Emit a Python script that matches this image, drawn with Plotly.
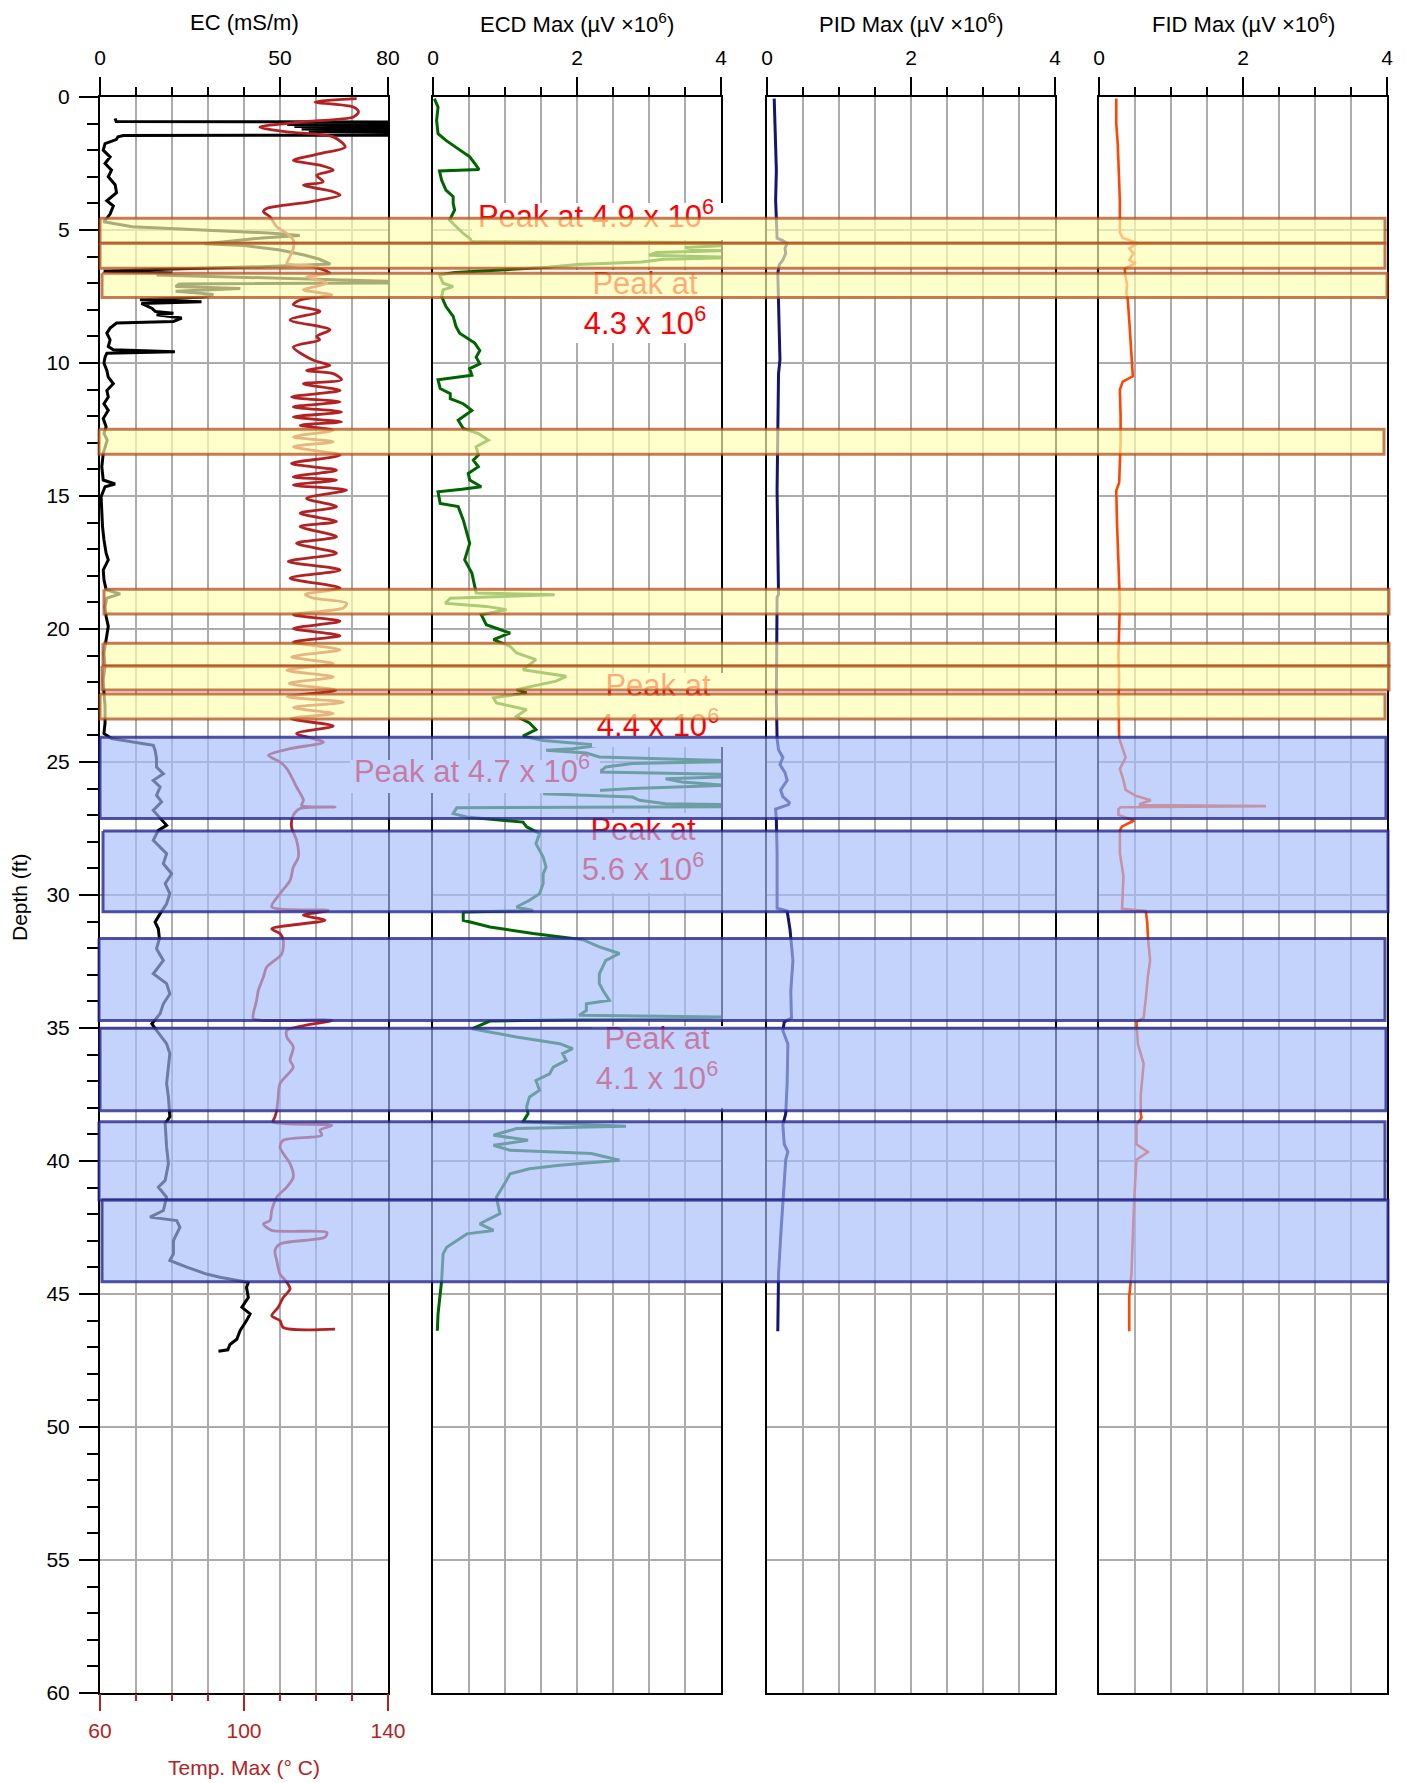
import plotly.graph_objects as go

FONT = "Liberation Sans, Arial, Helvetica, sans-serif"

# ---------------------------------------------------------------
# Log data (depth in ft)
# ---------------------------------------------------------------
EC_DEPTH = [0.81, 0.92, 0.94, 0.99, 1.03, 1.07, 1.11, 1.16, 1.20, 1.25, 1.30, 1.35, 1.40, 1.43,
            1.45, 1.50, 1.60, 1.75, 2.00, 2.25, 2.50, 2.75, 3.00, 3.30, 3.60, 3.90, 4.10, 4.40,
            4.56, 4.69, 4.88, 5.00, 5.12, 5.21, 5.30, 5.42, 5.52, 5.58, 5.75, 5.95, 6.10, 6.28,
            6.38, 6.47, 6.55, 6.62, 6.69, 6.98, 7.03, 7.12, 7.20, 7.30, 7.42, 7.52, 7.62, 7.70,
            7.76, 7.95, 8.06, 8.13, 8.19, 8.31, 8.44, 8.50, 8.69, 8.88, 9.13, 9.38, 9.50, 9.58,
            9.63, 9.78, 10.00, 10.28, 10.53, 10.78, 11.03, 11.28, 11.53, 11.78, 12.09, 12.40,
            12.65, 12.90, 13.15, 13.40, 13.90, 14.40, 14.55, 14.65, 15.03, 15.65, 16.15, 16.65,
            17.15, 17.40, 17.78, 18.15, 18.53, 18.68, 18.84, 19.15, 19.53, 19.90, 20.40, 20.90,
            21.40, 21.90, 22.40, 22.90, 23.53, 23.93, 24.12, 24.25, 24.37, 24.56, 24.87, 25.19,
            25.44, 25.69, 25.94, 26.25, 26.50, 26.82, 27.13, 27.38, 27.57, 27.94, 28.45, 28.82,
            29.20, 29.57, 29.95, 30.33, 30.70, 31.02, 31.27, 31.64, 32.02, 32.46, 32.96, 33.33,
            33.71, 34.09, 34.46, 34.84, 35.09, 35.59, 35.96, 36.47, 37.09, 37.59, 38.34, 38.59,
            39.47, 40.10, 40.73, 40.98, 41.36, 41.86, 42.11, 42.24, 42.49, 42.99, 43.49, 43.74,
            43.99, 44.25, 44.37, 44.56, 44.75, 45.13, 45.50, 45.75, 46.00, 46.38, 46.70, 46.90,
            47.10, 47.15]
EC_MS_M = [4.2, 4.5, 95, 82, 52, 95, 54, 95, 56, 95, 58, 95, 80, 95,
           6.5, 5.0, 4.5, 1.4, 0.9, 2.8, 1.4, 3.2, 2.3, 4.2, 4.6, 1.9, 3.7, 2.8,
           1.9, 1.0, 9.0, 28, 48, 55.5, 45, 36, 29, 40, 50, 57, 61, 64,
           45, 20, 1.0, 20, 15.7, 95, 22, 21, 39, 21, 31.5, 28.7, 11.1, 28.2,
           11.5, 14.5, 15.3, 20.4, 15.7, 22.7, 20.4, 4.6, 2.8, 1.9, 2.8, 2.3, 3.7, 20.8,
           1.9, 1.4, 1.1, 1.9, 2.3, 3.7, 1.9, 2.3, 1.1, 2.3, 0.9, 1.7,
           1.1, 2.0, 1.4, 0.9, 0.5, 0.9, 4.2, 1.4, 0.3, 0.5, 0.7, 1.1,
           1.7, 2.3, 0.9, 1.1, 1.7, 5.6, 1.9, 1.4, 1.7, 2.3, 1.7, 1.1,
           1.4, 0.9, 1.1, 1.4, 1.4, 1.1, 3.2, 9.3, 14.8, 15.3, 15.7, 15.7,
           17.6, 14.8, 16.7, 15.7, 17.1, 14.8, 16.7, 18.5, 16.2, 14.8, 18.5, 17.6,
           19.9, 18.1, 19.4, 18.5, 16.7, 15.3, 16.2, 16.5, 15.7, 17.6, 14.8, 18.5,
           19.4, 17.6, 16.7, 14.4, 15.7, 18.5, 19.4, 19.0, 18.5, 19.0, 19.4, 18.1,
           18.5, 19.0, 18.1, 16.2, 18.5, 17.6, 13.9, 21.3, 22.2, 20.4, 20.4, 19.4,
           24.1, 29.6, 33.3, 41.2, 40.7, 41.2, 39.4, 41.7, 40.7, 38.9, 38.0, 36.1,
           35.5, 32.9]

TEMP_DEPTH = [0.06, 0.19, 0.38, 0.56, 0.75, 0.94, 1.13, 1.31, 1.50, 1.88, 2.13, 2.38, 2.56, 2.75,
              2.94, 3.19, 3.31, 3.56, 3.69, 3.94, 4.19, 4.31, 4.50, 4.88, 5.13, 5.38, 5.69, 6.13,
              6.25, 6.38, 6.63, 6.75, 7.00, 7.25, 7.44, 7.63, 7.81, 8.06, 8.38, 8.75, 9.00, 9.13,
              9.40, 9.90, 10.09, 10.28, 10.40, 10.63, 10.78, 11.03, 11.28, 11.46, 11.65, 11.84,
              12.03, 12.21, 12.34, 12.53, 12.78, 12.96, 13.15, 13.46, 13.78, 14.03, 14.28, 14.40,
              14.59, 14.78, 15.09, 15.40, 15.65, 15.96, 16.15, 16.53, 16.78, 17.15, 17.46, 17.78,
              18.09, 18.46, 18.70, 18.84, 19.03, 19.21, 19.46, 19.71, 19.98, 20.25, 20.50, 20.78,
              21.05, 21.30, 21.55, 21.80, 22.05, 22.30, 22.55, 22.75, 22.95, 23.18, 23.37, 23.65,
              23.93, 24.25, 24.50, 24.75, 25.00, 25.25, 25.69, 25.94, 26.44, 26.63, 26.69, 26.75,
              27.00, 27.44, 27.94, 28.57, 28.95, 29.45, 29.95, 30.45, 30.58, 30.76, 30.95, 31.27,
              31.45, 31.70, 32.21, 32.71, 33.08, 33.58, 33.96, 34.46, 34.65, 34.71, 35.09, 35.34,
              35.71, 36.22, 36.47, 37.09, 37.59, 38.09, 38.34, 38.53, 38.66, 38.84, 39.03, 39.22,
              39.47, 39.72, 40.10, 40.60, 40.98, 41.36, 41.86, 42.24, 42.36, 42.61, 42.68, 42.86,
              43.12, 43.37, 43.74, 44.25, 44.56, 44.81, 45.13, 45.50, 45.82, 46.00, 46.26, 46.32]
TEMP_C = [131.3, 119.7, 130.4, 131.8, 130.4, 115.6, 104.4, 111.9, 124.8, 128.1, 121.1, 113.7, 121.1, 124.8,
          120.2, 122.0, 116.5, 124.8, 126.7, 118.3, 106.3, 105.4, 107.2, 109.1, 111.9, 113.7, 113.7, 112.3,
          111.9, 119.3, 123.9, 117.4, 123.0, 116.5, 124.4, 115.6, 113.7, 121.1, 112.8, 123.9, 120.2, 121.0,
          113.7, 119.3, 123.9, 117.4, 124.8, 127.1, 116.5, 126.7, 113.2, 126.7, 113.7, 127.1,
          113.7, 127.1, 115.6, 124.8, 113.7, 124.8, 113.7, 126.7, 113.2, 125.7, 113.7, 125.7,
          113.7, 128.5, 117.4, 125.7, 115.6, 125.7, 115.6, 125.7, 114.6, 125.7, 112.3, 126.7,
          112.8, 126.7, 117.0, 119.3, 128.5, 127.6, 113.7, 126.7, 113.7, 126.7, 113.7, 126.7,
          113.2, 124.8, 111.9, 124.8, 112.5, 125.5, 112.0, 127.6, 113.7, 124.8, 113.0, 124.8,
          114.6, 122.0, 112.8, 106.8, 110.0, 111.9, 113.7, 114.6, 116.5, 116.0, 125.3, 115.6,
          113.7, 113.2, 114.6, 115.1, 113.7, 112.8, 110.0, 107.7, 123.4, 116.5, 122.5, 107.7,
          110.0, 110.9, 110.5, 106.3, 105.4, 104.0, 103.5, 102.6, 102.6, 124.4, 111.9, 111.9,
          113.7, 112.8, 113.7, 110.0, 109.5, 109.1, 108.6, 108.1, 124.4, 121.1, 121.6, 110.9,
          110.0, 110.9, 112.8, 113.7, 111.9, 109.1, 107.7, 107.2, 105.4, 107.7, 123.0, 122.5,
          110.0, 108.6, 109.1, 110.0, 111.9, 112.8, 110.9, 109.5, 107.7, 110.0, 110.9, 125.3]

ECD_DEPTH = [0.06, 0.38, 0.88, 1.38, 1.63, 2.00, 2.25, 2.50, 2.73, 2.78, 3.13, 3.50, 3.75, 4.00,
             4.25, 4.63, 4.88, 5.13, 5.31, 5.44, 5.48, 5.56, 5.66, 5.72, 5.78, 5.85, 5.95, 6.03,
             6.10, 6.20, 6.30, 6.40, 6.50, 6.60, 6.69, 7.00, 7.13, 7.25, 7.50, 7.88, 8.25, 8.63,
             8.88, 9.13, 9.25, 9.53, 9.78, 10.03, 10.21, 10.46, 10.63, 10.96, 11.15, 11.34, 11.53,
             11.78, 12.15, 12.46, 12.65, 12.90, 13.15, 13.46, 13.65, 13.90, 14.15, 14.40, 14.65,
             14.75, 14.84, 15.28, 15.40, 15.90, 16.40, 16.78, 17.40, 17.90, 18.40, 18.65, 18.71,
             18.84, 19.03, 19.15, 19.28, 19.46, 19.84, 20.15, 20.40, 20.65, 20.90, 21.15, 21.53,
             21.78, 21.96, 22.28, 22.40, 22.59, 22.78, 23.03, 23.28, 23.53, 23.78, 24.03, 24.19,
             24.37, 24.50, 24.56, 24.66, 24.81, 24.97, 25.06, 25.19, 25.38, 25.50, 25.63, 25.75,
             25.88, 26.00, 26.19, 26.32, 26.44, 26.57, 26.67, 26.72, 26.94, 27.07, 27.26, 27.44,
             27.69, 28.07, 28.57, 28.95, 29.20, 29.57, 29.95, 30.20, 30.45, 30.58, 30.64, 30.95,
             31.20, 31.45, 31.68, 31.95, 32.20, 32.46, 32.71, 32.96, 33.33, 33.58, 33.96, 34.09,
             34.34, 34.52, 34.59, 34.74, 35.03, 35.34, 35.59, 35.78, 35.96, 36.22, 36.47, 36.72,
             36.97, 37.34, 37.59, 37.96, 38.22, 38.53, 38.69, 38.78, 39.03, 39.22, 39.41, 39.60,
             39.72, 39.97, 40.16, 40.29, 40.48, 40.73, 41.36, 41.98, 42.36, 42.61, 42.74, 42.99,
             43.24, 43.49, 44.50, 45.75, 46.38]
ECD_UV = [0.02, 0.07, 0.05, 0.07, 0.18, 0.37, 0.51, 0.58, 0.64, 0.09, 0.12, 0.18, 0.28, 0.28,
          0.30, 0.23, 0.32, 0.42, 0.51, 0.55, 4.9, 4.2, 3.5, 3.6, 4.05, 3.1, 3.0, 4.3,
          3.2, 2.9, 2.0, 1.6, 0.9, 0.3, 0.09, 0.14, 0.28, 0.14, 0.12, 0.18, 0.28, 0.32,
          0.37, 0.51, 0.58, 0.65, 0.60, 0.65, 0.51, 0.54, 0.07, 0.10, 0.24, 0.24, 0.42,
          0.54, 0.35, 0.42, 0.63, 0.77, 0.60, 0.63, 0.56, 0.63, 0.49, 0.51, 0.67,
          0.40, 0.07, 0.10, 0.35, 0.42, 0.47, 0.51, 0.44, 0.54, 0.58, 0.60, 1.69,
          0.24, 0.17, 0.74, 1.02, 0.67, 0.74, 1.07, 0.84, 1.07, 1.16, 1.43, 1.25,
          1.85, 1.71, 1.16, 1.30, 0.84, 0.88, 1.30, 1.16, 1.34, 1.43, 1.25, 1.53,
          2.31, 1.94, 1.57, 2.13, 2.31, 4.4, 2.77, 2.40, 2.31, 4.7, 3.23, 3.46,
          4.05, 2.77, 1.53, 2.77, 2.87, 3.23, 5.6, 0.33, 0.28, 0.47, 1.25, 1.30,
          1.48, 1.43, 1.53, 1.57, 1.53, 1.53, 1.48, 1.34, 1.16, 1.39, 0.42, 0.42,
          0.79, 1.39, 2.08, 2.31, 2.59, 2.40, 2.36, 2.31, 2.31, 2.36, 2.45, 2.13,
          2.13, 2.03, 4.1, 0.79, 0.54, 1.16, 1.76, 1.94, 1.80, 1.85, 1.67, 1.62,
          1.43, 1.48, 1.34, 1.30, 1.32, 1.25, 2.68, 1.16, 0.84, 1.32, 0.84, 1.07,
          2.20, 2.59, 1.76, 1.34, 1.07, 1.02, 0.88, 0.93, 0.65, 0.84, 0.47, 0.33,
          0.19, 0.14, 0.12, 0.07, 0.06]

PID_DEPTH = [0.06, 1.38, 2.75, 3.88, 5.13, 5.31, 5.40, 5.50, 5.69, 5.88, 6.13, 6.31, 6.63, 7.63,
             8.88, 9.88, 10.40, 14.15, 14.78, 18.71, 18.80, 22.67, 24.11, 24.54, 24.83, 25.10,
             25.40, 25.69, 26.05, 26.30, 26.52, 26.60, 26.77, 27.20, 28.40, 30.50, 30.60, 31.30,
             32.47, 33.62, 34.62, 34.77, 35.10, 35.60, 37.07, 38.22, 38.65, 39.37, 39.66, 39.95,
             41.39, 42.83, 44.27, 45.10, 46.40]
PID_UV = [0.10, 0.11, 0.13, 0.12, 0.13, 0.14, 0.22, 0.28, 0.25, 0.26, 0.22, 0.17, 0.15, 0.16,
          0.17, 0.18, 0.16, 0.15, 0.14, 0.16, 0.14, 0.13, 0.14, 0.16, 0.22, 0.18,
          0.25, 0.28, 0.19, 0.22, 0.31, 0.30, 0.12, 0.13, 0.14, 0.14, 0.28, 0.32,
          0.36, 0.33, 0.34, 0.24, 0.22, 0.29, 0.28, 0.26, 0.22, 0.24, 0.29, 0.26,
          0.22, 0.19, 0.16, 0.16, 0.15]

FID_DEPTH = [0.06, 1.00, 1.75, 2.50, 3.00, 3.90, 5.10, 5.30, 5.50, 5.69, 5.88, 6.13, 6.25, 6.44,
             6.63, 7.06, 7.38, 7.63, 8.40, 9.60, 10.00, 10.50, 10.70, 11.00, 12.00, 13.00, 14.50,
             14.80, 16.00, 17.00, 18.00, 19.00, 20.00, 21.00, 22.00, 22.67, 24.11, 24.54, 24.83,
             25.26, 25.69, 26.05, 26.27, 26.44, 26.58, 26.62, 26.66, 26.70, 26.77, 26.99, 27.20,
             27.42, 27.57, 28.43, 29.30, 30.52, 30.60, 31.03, 31.60, 32.47, 33.04, 33.90, 34.62,
             34.77, 35.60, 36.35, 37.07, 37.50, 38.22, 38.37, 38.65, 39.37, 39.66, 39.95, 41.39,
             42.83, 44.27, 45.10, 46.40]
FID_UV = [0.24, 0.24, 0.26, 0.27, 0.27, 0.29, 0.29, 0.33, 0.54, 0.42, 0.48, 0.42, 0.51, 0.36,
          0.36, 0.39, 0.38, 0.40, 0.42, 0.45, 0.46, 0.47, 0.33, 0.29, 0.30, 0.30, 0.28,
          0.24, 0.25, 0.26, 0.27, 0.29, 0.28, 0.27, 0.28, 0.27, 0.28, 0.34, 0.37,
          0.29, 0.34, 0.37, 0.51, 0.72, 0.57, 0.57, 2.32, 0.30, 0.27, 0.27, 0.49,
          0.32, 0.29, 0.29, 0.34, 0.32, 0.65, 0.67, 0.68, 0.71, 0.68, 0.65, 0.62,
          0.52, 0.54, 0.62, 0.59, 0.58, 0.58, 0.59, 0.52, 0.52, 0.68, 0.52, 0.49,
          0.47, 0.45, 0.42, 0.42]

# Interpreted depth intervals (ft)
YELLOW_TOP = [4.56, 5.50, 6.63, 12.49, 18.51, 20.54, 21.39, 22.44]
YELLOW_BOTTOM = [5.50, 6.44, 7.54, 13.43, 19.44, 21.39, 22.29, 23.38]
BLUE_TOP = [24.07, 27.59, 31.64, 35.01, 38.52, 41.47]
BLUE_BOTTOM = [27.12, 30.63, 34.72, 38.11, 41.47, 44.54]

# Off-scale ECD peak values (x 10^6 uV)
PEAK_VALUES = [4.9, 4.3, 4.4, 4.7, 5.6, 4.1]
PEAK_TWO_LINES = [False, True, True, False, True, True]

PANEL_TITLES = ["EC (mS/m)", "ECD Max (\u00b5V \u00d710<sup>6</sup>)",
                "PID Max (\u00b5V \u00d710<sup>6</sup>)", "FID Max (\u00b5V \u00d710<sup>6</sup>)"]

# ---------------------------------------------------------------
# Page geometry (pixels)
# ---------------------------------------------------------------
W, H = 1407, 1783
ML, MR, MT, MB = 96, 14, 97, 90
PW = W - ML - MR
PH = H - MT - MB
DEPTH_MAX = 60
PANELS_PX = [(100, 388), (433, 721), (767, 1055), (1099, 1387)]

YELLOW_X = [(100, 1385), (100, 1385), (102, 1387), (99, 1384), (104, 1389), (103, 1389),
            (102, 1389), (100, 1385)]
BLUE_X = [(100, 1386), (103, 1388), (99, 1385), (100, 1386), (99, 1385), (102, 1388)]

# label placement: centre (x px, y px) and white backing box (x0, x1, y0, y1 px)
LABEL_AT = [(596, 219), (645, 306), (658, 708), (472, 774), (643, 852), (657, 1061)]
LABEL_BOX = [(472, 730, 203, 240), (574, 718, 270, 343), (592, 732, 673, 747),
             (350, 600, 760, 793), (580, 716, 813, 893), (592, 732, 1026, 1108)]


def dom(a, b):
    return [(a - ML) / PW, (b - ML) / PW]


def depth_of(ypx):
    return (ypx - MT) / PH * DEPTH_MAX


def paper_y(ypx):
    return (H - MB - ypx) / PH


def paper_x(xpx):
    return (xpx - ML) / PW


GRID = "rgb(172,172,172)"
TEMP_RED = "#B22222"
TICKFONT = dict(family=FONT, size=21, color="black")

fig = go.Figure()

# ---- log curves ----
fig.add_trace(go.Scatter(x=EC_MS_M, y=EC_DEPTH, mode="lines", xaxis="x", yaxis="y",
                         line=dict(color="black", width=3)))
fig.add_trace(go.Scatter(x=TEMP_C, y=TEMP_DEPTH, mode="lines", xaxis="x5", yaxis="y",
                         line=dict(color=TEMP_RED, width=2.8, shape="spline", smoothing=0.8)))
fig.add_trace(go.Scatter(x=ECD_UV, y=ECD_DEPTH, mode="lines", xaxis="x2", yaxis="y2",
                         line=dict(color="#006400", width=3)))
fig.add_trace(go.Scatter(x=PID_UV, y=PID_DEPTH, mode="lines", xaxis="x3", yaxis="y3",
                         line=dict(color="#15156E", width=3)))
fig.add_trace(go.Scatter(x=FID_UV, y=FID_DEPTH, mode="lines", xaxis="x4", yaxis="y4",
                         line=dict(color="#FF4500", width=2.6)))

# ---- overlay layer spanning all tracks: label backings, labels, intervals ----
for (x0, x1, y0, y1) in LABEL_BOX:
    d0, d1 = depth_of(y0), depth_of(y1)
    fig.add_trace(go.Scatter(x=[x0, x1, x1, x0, x0], y=[d0, d0, d1, d1, d0],
                             mode="lines", fill="toself", fillcolor="white",
                             line=dict(width=0, color="white"),
                             xaxis="x6", yaxis="y6", hoverinfo="skip"))

for (xc, yc), val, two in zip(LABEL_AT, PEAK_VALUES, PEAK_TWO_LINES):
    sep = "<br>" if two else " "
    label = f"Peak at{sep}{val:.1f} x 10<sup>6</sup>"
    fig.add_trace(go.Scatter(x=[xc], y=[depth_of(yc)], mode="text", text=[label],
                             textposition="middle center", cliponaxis=False,
                             textfont=dict(family=FONT, size=31, color="red"),
                             xaxis="x6", yaxis="y6", hoverinfo="skip"))


def band(top, bottom, xs, fill, edge):
    x0, x1 = xs
    fig.add_trace(go.Scatter(x=[x0, x1, x1, x0, x0], y=[top, top, bottom, bottom, top],
                             mode="lines", fill="toself", fillcolor=fill,
                             line=dict(color=edge, width=3),
                             xaxis="x6", yaxis="y6", hoverinfo="skip"))


for t, b, xs in zip(YELLOW_TOP, YELLOW_BOTTOM, YELLOW_X):
    band(t, b, xs, "rgba(255,255,178,0.67)", "rgba(178,72,22,0.72)")
for t, b, xs in zip(BLUE_TOP, BLUE_BOTTOM, BLUE_X):
    band(t, b, xs, "rgba(165,188,250,0.66)", "rgba(34,34,140,0.78)")


# ---- axes ----
def top_axis(px, rng, tickvals, minor_dtick, anchor):
    return dict(domain=dom(*px), range=rng, side="top", anchor=anchor,
                tickmode="array", tickvals=tickvals, ticks="outside", ticklen=18,
                tickwidth=2, tickcolor="black", ticklabelstandoff=4, tickfont=TICKFONT,
                showgrid=True, gridcolor=GRID, gridwidth=1.5,
                minor=dict(dtick=minor_dtick, tick0=0, ticks="outside", ticklen=8,
                           tickwidth=2, tickcolor="black", showgrid=True,
                           gridcolor=GRID, gridwidth=1.5),
                showline=True, mirror=True, linecolor="black", linewidth=2,
                zeroline=False, fixedrange=True, automargin=False)


def depth_axis(anchor, labelled):
    ax = dict(domain=[0, 1], range=[DEPTH_MAX, 0], anchor=anchor,
              tickmode="linear", tick0=0, dtick=5, showgrid=True, gridcolor=GRID,
              gridwidth=1.5, showline=True, mirror=True, linecolor="black",
              linewidth=2, zeroline=False, fixedrange=True, automargin=False)
    if labelled:
        ax.update(ticks="outside", ticklen=19, tickwidth=2, tickcolor="black",
                  tickfont=TICKFONT, ticklabelstandoff=5,
                  minor=dict(dtick=1, tick0=0, ticks="outside", ticklen=11,
                             tickwidth=2, tickcolor="black", showgrid=False))
    else:
        ax.update(ticks="", showticklabels=False)
    return ax


layout = dict(
    width=W, height=H, autosize=False,
    margin=dict(l=ML, r=MR, t=MT, b=MB, pad=0, autoexpand=False),
    paper_bgcolor="white", plot_bgcolor="rgba(0,0,0,0)",
    showlegend=False, hovermode=False,
    font=dict(family=FONT, size=21, color="black"),
    xaxis=top_axis(PANELS_PX[0], [0, 80], [0, 50, 80], 10, "y"),
    xaxis2=top_axis(PANELS_PX[1], [0, 4], [0, 2, 4], 0.5, "y2"),
    xaxis3=top_axis(PANELS_PX[2], [0, 4], [0, 2, 4], 0.5, "y3"),
    xaxis4=top_axis(PANELS_PX[3], [0, 4], [0, 2, 4], 0.5, "y4"),
    xaxis5=dict(overlaying="x", side="bottom", anchor="y", range=[60, 140],
                tickmode="array", tickvals=[60, 100, 140], ticks="outside", ticklen=17,
                tickwidth=2, tickcolor=TEMP_RED, ticklabelstandoff=2,
                tickfont=dict(family=FONT, size=21, color=TEMP_RED),
                minor=dict(dtick=10, tick0=60, ticks="outside", ticklen=7,
                           tickwidth=2, tickcolor=TEMP_RED, showgrid=False),
                showgrid=False, showline=False, zeroline=False, fixedrange=True,
                automargin=False),
    xaxis6=dict(domain=[0, 1], range=[ML, W - MR], anchor="y6", visible=False,
                fixedrange=True),
    yaxis=depth_axis("x", True),
    yaxis2=depth_axis("x2", False),
    yaxis3=depth_axis("x3", False),
    yaxis4=depth_axis("x4", False),
    yaxis6=dict(domain=[0, 1], range=[DEPTH_MAX, 0], anchor="x6", visible=False,
                fixedrange=True),
)
fig.update_layout(**layout)

# ---- titles ----
axis_refs = ["x", "x2", "x3", "x4"]
for ref, title in zip(axis_refs, PANEL_TITLES):
    fig.add_annotation(text=title, xref=f"{ref} domain", x=0.5, yref="paper",
                       y=paper_y(23), xanchor="center", yanchor="middle",
                       showarrow=False, font=dict(family=FONT, size=22, color="black"))
fig.add_annotation(text="Depth (ft)", textangle=-90, xref="paper", x=paper_x(19),
                   yref="paper", y=paper_y(897), xanchor="center", yanchor="middle",
                   showarrow=False, font=dict(family=FONT, size=21, color="black"))
fig.add_annotation(text="Temp. Max (\u00b0 C)", xref="x domain", x=0.5, yref="paper",
                   y=paper_y(1767), xanchor="center", yanchor="middle",
                   showarrow=False, font=dict(family=FONT, size=21, color=TEMP_RED))

# fixed-size page: no responsive re-layout
fig.write_html("out.html", config={"responsive": False})
